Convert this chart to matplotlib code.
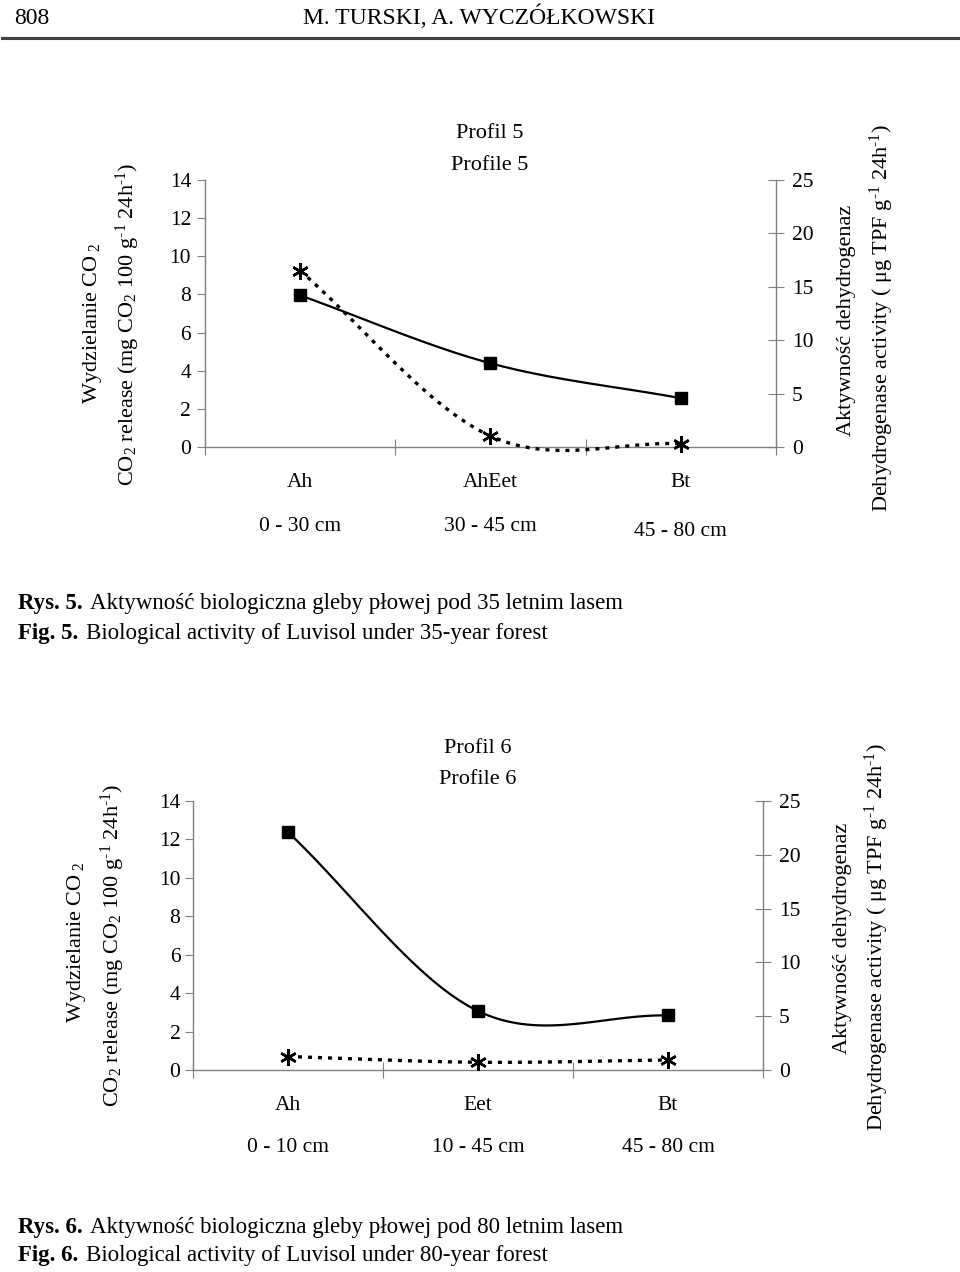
import matplotlib
matplotlib.use('Agg')
import matplotlib.pyplot as plt
from matplotlib.lines import Line2D
import numpy as np

plt.rcParams['font.family'] = ['Liberation Serif', 'DejaVu Serif']
plt.rcParams['mathtext.fontset'] = 'custom'
plt.rcParams['mathtext.rm'] = 'Liberation Serif'
plt.rcParams['mathtext.it'] = 'Liberation Serif:italic'
plt.rcParams['mathtext.bf'] = 'Liberation Serif:bold'

# dane - profil 5
horizons5 = ['Ah', 'AhEet', 'Bt']
depths5 = ['0 - 30 cm', '30 - 45 cm', '45 - 80 cm']
co2_5 = [7.95, 4.39, 2.56]
dehyd_5 = [16.5, 1.03, 0.31]

# dane - profil 6
horizons6 = ['Ah', 'Eet', 'Bt']
depths6 = ['0 - 10 cm', '10 - 45 cm', '45 - 80 cm']
co2_6 = [12.38, 3.07, 2.84]
dehyd_6 = [1.25, 0.72, 0.93]

co2_ticks = [0, 2, 4, 6, 8, 10, 12, 14]
dehyd_ticks = [0, 5, 10, 15, 20, 25]

W, H = 960, 1272
GRAY = '#808080'
FS = 15.5
fig = plt.figure(figsize=(W / 100, H / 100), dpi=100)


def fx(x):
    return x / W


def fy(y):
    return 1 - y / H


def smooth(ys, n=40):
    # wygladzona linia jak w excelu (bezier, styczne catmull-rom)
    ys = np.asarray(ys, float)
    k = len(ys)
    tang = np.empty(k)
    tang[0] = ys[1] - ys[0]
    tang[-1] = ys[-1] - ys[-2]
    tang[1:-1] = (ys[2:] - ys[:-2]) / 2
    t = np.linspace(0, 1, n)
    xx, yy = [], []
    for i in range(k - 1):
        p0, p3 = ys[i], ys[i + 1]
        p1 = p0 + tang[i] / 3
        p2 = p3 - tang[i + 1] / 3
        yy.append((1 - t) ** 3 * p0 + 3 * (1 - t) ** 2 * t * p1
                  + 3 * (1 - t) * t ** 2 * p2 + t ** 3 * p3)
        xx.append(i + t)
    return np.concatenate(xx), np.concatenate(yy)


def panel(x0, x1, ytop, ybot, co2, dehyd, horizons, depths,
          off1, off2, lpad):
    ax = fig.add_axes([fx(x0), fy(ybot), (x1 - x0) / W, (ybot - ytop) / H])
    ax2 = ax.twinx()
    x = np.arange(len(co2))

    sx, sy = smooth(co2)
    ax.plot(sx, sy, color='black', lw=1.6, clip_on=False)
    ax.plot(x, co2, 's', color='black', ms=9, clip_on=False)

    sx, sy = smooth(dehyd)
    ax2.plot(sx, sy, color='black', lw=2.4, ls=(0, (1.2, 1.8)), clip_on=False)
    ax2.plot(x, dehyd, ls='none', marker=(6, 2, 0), color='black', ms=12,
             mew=1.8, clip_on=False)

    ax.set_xlim(-0.5, len(co2) - 0.5)
    ax.set_ylim(0, 14)
    ax2.set_ylim(0, 25)
    ax.set_yticks(co2_ticks)
    ax2.set_yticks(dehyd_ticks)
    ax.set_xticks(np.arange(len(co2) + 1) - 0.5)
    ax.set_xticklabels([])

    for a in (ax, ax2):
        a.patch.set_visible(False)
        for s in a.spines.values():
            s.set_color(GRAY)
            s.set_linewidth(1.0)
        a.spines['top'].set_visible(False)
    ax.spines['right'].set_visible(False)
    ax2.spines['left'].set_visible(False)
    ax2.spines['bottom'].set_visible(False)

    ax.tick_params(axis='y', direction='out', length=6, color=GRAY,
                   labelsize=FS, pad=lpad)
    ax.tick_params(axis='x', direction='inout', length=12, color=GRAY)
    ax2.tick_params(axis='y', direction='inout', length=11, color=GRAY,
                    labelsize=FS, pad=6)

    tr = ax.get_xaxis_transform()
    h = ybot - ytop
    for i in range(len(horizons)):
        ax.text(i, -off1 / h, horizons[i], transform=tr, ha='center',
                va='center', fontsize=FS)
        ax.text(i, -off2[i] / h, depths[i], transform=tr, ha='center',
                va='center', fontsize=FS)
    return ax


# naglowek strony
fig.text(fx(14), fy(24), '808', ha='left', va='baseline', fontsize=17)
fig.text(fx(479), fy(24), 'M. TURSKI, A. WYCZÓŁKOWSKI', ha='center',
         va='baseline', fontsize=17)
fig.add_artist(Line2D([fx(2), fx(958)], [fy(38), fy(38)], color='#404040',
                      lw=2.2))

ylab1 = r'Wydzielanie CO$_{\ 2}$'
ylab2 = r'CO$_2$ release (mg CO$_2$ 100 g$^{\text{-1}}$ 24h$^{\text{-1}}$)'
rlab1 = 'Aktywność dehydrogenaz'
rlab2 = r'Dehydrogenase activity ( μg TPF g$^{\text{-1}}$ 24h$^{\text{-1}}$)'
LFS = 16

# rys. 5
panel(205, 776, 180, 447, co2_5, dehyd_5, horizons5, depths5,
      36, [80, 80, 85], 4)
fig.text(fx(490), fy(133), 'Profil 5', ha='center', va='center', fontsize=16)
fig.text(fx(490), fy(165), 'Profile 5', ha='center', va='center', fontsize=16)
fig.text(fx(92), fy(323), ylab1, rotation=90, ha='center', va='center', fontsize=LFS)
fig.text(fx(128), fy(324), ylab2, rotation=90, ha='center', va='center', fontsize=LFS)
fig.text(fx(847), fy(320), rlab1, rotation=90, ha='center', va='center', fontsize=LFS)
fig.text(fx(882), fy(318), rlab2, rotation=90, ha='center', va='center', fontsize=LFS)

fig.text(fx(18), fy(603), 'Rys. 5.', ha='left', va='center', fontsize=16.5,
         fontweight='bold')
fig.text(fx(90), fy(603), 'Aktywność biologiczna gleby płowej pod 35 letnim lasem',
         ha='left', va='center', fontsize=16.5)
fig.text(fx(18), fy(633), 'Fig. 5.', ha='left', va='center', fontsize=16.5,
         fontweight='bold')
fig.text(fx(86), fy(633), 'Biological activity of Luvisol under 35-year forest',
         ha='left', va='center', fontsize=16.5)

# rys. 6
panel(193, 763, 801, 1070, co2_6, dehyd_6, horizons6, depths6,
      36, [78, 78, 78], 3)
fig.text(fx(478), fy(749), 'Profil 6', ha='center', va='center', fontsize=16)
fig.text(fx(478), fy(779), 'Profile 6', ha='center', va='center', fontsize=16)
fig.text(fx(77), fy(942), ylab1, rotation=90, ha='center', va='center', fontsize=LFS)
fig.text(fx(113), fy(945), ylab2, rotation=90, ha='center', va='center', fontsize=LFS)
fig.text(fx(842), fy(938), rlab1, rotation=90, ha='center', va='center', fontsize=LFS)
fig.text(fx(877), fy(937), rlab2, rotation=90, ha='center', va='center', fontsize=LFS)

fig.text(fx(18), fy(1227), 'Rys. 6.', ha='left', va='center', fontsize=16.5,
         fontweight='bold')
fig.text(fx(90), fy(1227), 'Aktywność biologiczna gleby płowej pod 80 letnim lasem',
         ha='left', va='center', fontsize=16.5)
fig.text(fx(18), fy(1255), 'Fig. 6.', ha='left', va='center', fontsize=16.5,
         fontweight='bold')
fig.text(fx(86), fy(1255), 'Biological activity of Luvisol under 80-year forest',
         ha='left', va='center', fontsize=16.5)

fig.savefig('out.png', dpi=100)
